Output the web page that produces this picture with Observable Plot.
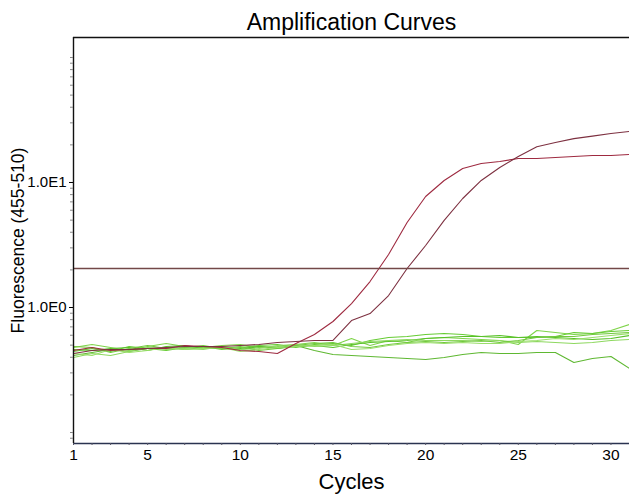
<!DOCTYPE html>
<html><head><meta charset="utf-8">
<script src="https://cdn.jsdelivr.net/npm/d3@7"></script>
<script src="https://cdn.jsdelivr.net/npm/@observablehq/plot@0.6"></script>
<style>
body{margin:0;background:#fff;}
svg{display:block;}
</style>
</head><body><div id="chart"></div>
<script>
const cycles = d3.range(1, 32);
const xTicks = [1, 5, 10, 15, 20, 25, 30];
const yTicks = [1, 10];
const yTickLabels = ["1.0E0", "1.0E1"];
const threshold = [2.05];

const sampleA = [0.453,0.479,0.453,0.461,0.470,0.470,0.497,0.488,0.479,0.453,0.445,0.429,0.515,0.608,0.773,1.076,1.614,2.655,4.786,7.727,10.38,12.94,14.19,14.72,15.56,15.56,15.85,16.14,16.44,16.44,16.75];
const sampleB = [0.429,0.453,0.461,0.461,0.470,0.479,0.488,0.488,0.488,0.497,0.506,0.525,0.535,0.545,0.545,0.787,0.895,1.247,2.051,3.133,4.977,7.447,10.38,13.18,16.14,19.34,20.9,22.45,23.5,24.66,25.6];
const neg1 = [0.413,0.437,0.461,0.445,0.470,0.479,0.461,0.479,0.470,0.461,0.488,0.479,0.497,0.453,0.421,0.413,0.406,0.398,0.391,0.384,0.398,0.421,0.437,0.429,0.429,0.437,0.437,0.363,0.391,0.406,0.325];
const neg2 = [0.479,0.506,0.479,0.453,0.488,0.515,0.488,0.479,0.497,0.506,0.479,0.488,0.506,0.525,0.497,0.565,0.497,0.545,0.525,0.565,0.575,0.565,0.555,0.545,0.506,0.655,0.631,0.608,0.619,0.655,0.731];
const neg3 = [0.445,0.470,0.445,0.488,0.470,0.453,0.479,0.488,0.461,0.479,0.497,0.506,0.479,0.506,0.515,0.497,0.545,0.575,0.586,0.608,0.619,0.608,0.586,0.575,0.575,0.575,0.586,0.631,0.619,0.643,0.655];
const neg4 = [0.461,0.453,0.470,0.479,0.453,0.488,0.497,0.470,0.479,0.470,0.488,0.470,0.488,0.497,0.479,0.506,0.525,0.535,0.545,0.565,0.575,0.586,0.586,0.597,0.575,0.586,0.575,0.565,0.555,0.565,0.597];
const neg5 = [0.398,0.429,0.413,0.445,0.479,0.461,0.470,0.461,0.488,0.461,0.470,0.497,0.506,0.488,0.497,0.515,0.535,0.545,0.555,0.545,0.545,0.545,0.535,0.545,0.525,0.535,0.525,0.515,0.525,0.545,0.555];
const neg6 = [0.488,0.479,0.437,0.470,0.497,0.470,0.479,0.497,0.470,0.488,0.453,0.470,0.497,0.515,0.525,0.488,0.479,0.506,0.525,0.535,0.525,0.535,0.545,0.525,0.545,0.575,0.586,0.586,0.608,0.619,0.631];
const neg7 = [0.429,0.413,0.461,0.437,0.453,0.479,0.461,0.470,0.479,0.445,0.461,0.479,0.488,0.497,0.506,0.461,0.470,0.497,0.515,0.525,0.515,0.525,0.515,0.515,0.535,0.545,0.565,0.555,0.575,0.597,0.619];

const greens = [neg1, neg2, neg3, neg4, neg5, neg6, neg7];
const greenColors = ["#5fb832", "#7fd44a", "#66cc33", "#58c028", "#8ed860", "#72c83e", "#9ade6a"];
const reds = [sampleA, sampleB];
const redColors = ["#9e2a40", "#7d3040"];

const yDomain = [0.0817, 144.5];
const xDomain = [1, 31];
const minorY = [];
for (const k of [-2, -1, 0, 1, 2]) for (let m = 1; m <= 9; m++) {
  const v = m * Math.pow(10, k);
  if (v >= yDomain[0] && v <= yDomain[1] && !yTicks.includes(v)) minorY.push(v);
}

const font = "'Liberation Sans', Arial, sans-serif";
const lineMarks = (arrs, colors) => arrs.map((arr, j) =>
  Plot.line(arr, {x: (d, i) => cycles[i], y: d => d, stroke: colors[j], strokeWidth: 1.1}));

const chart = Plot.plot({
  width: 629, height: 495,
  marginTop: 37, marginLeft: 73, marginRight: 0, marginBottom: 52,
  x: {domain: xDomain},
  y: {type: "log", domain: yDomain},
  style: {fontFamily: font, background: "#fff", color: "#000"},
  marks: [
    ...lineMarks(greens, greenColors),
    ...lineMarks(reds, redColors),
    Plot.ruleY(threshold, {stroke: "#734848", strokeWidth: 1.4}),
    Plot.ruleY([yDomain[1]], {stroke: "#111", strokeWidth: 1.4}),
    Plot.ruleY([yDomain[0]], {stroke: "#2a3350", strokeWidth: 1.4}),
    Plot.ruleX([xDomain[0]], {stroke: "#111", strokeWidth: 1.4}),
    Plot.axisX({ticks: cycles, tickSize: 2, text: null, stroke: "#556", label: null}),
    Plot.axisX({ticks: xTicks, tickSize: 0, tickPadding: 5, fontSize: 15.5, label: null}),
    Plot.axisY({ticks: minorY, tickSize: 3, text: null, stroke: "#888", label: null}),
    Plot.axisY({ticks: yTicks, tickSize: 4, tickPadding: 3, fontSize: 15, label: null,
      tickFormat: d => yTickLabels[yTicks.indexOf(d)]}),
    Plot.text(["Amplification Curves"], {frameAnchor: "top", lineAnchor: "middle", dy: -15, fontSize: 23}),
    Plot.text(["Cycles"], {frameAnchor: "bottom", lineAnchor: "middle", dy: 38, fontSize: 22}),
    Plot.text(["Fluorescence (455-510)"], {frameAnchor: "left", textAnchor: "middle", lineAnchor: "middle", dx: -55, rotate: -90, fontSize: 17.5})
  ]
});
document.getElementById("chart").appendChild(chart);
</script>
</body></html>
